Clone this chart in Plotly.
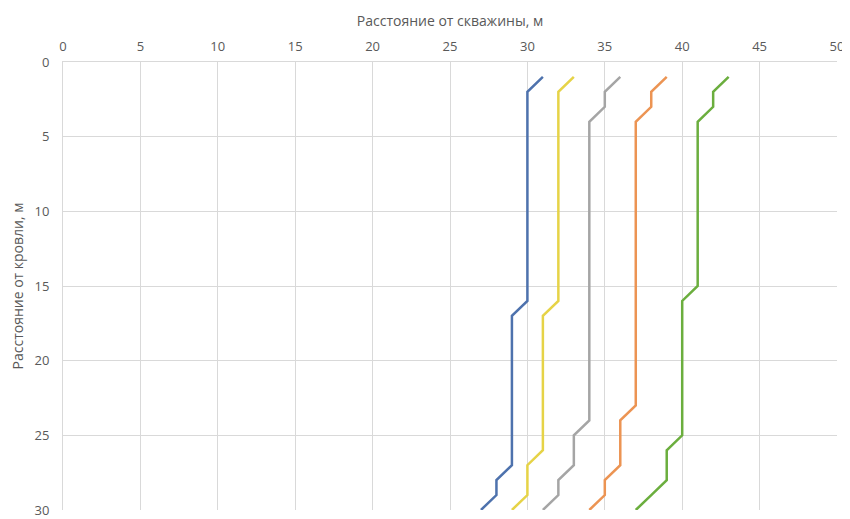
import plotly.graph_objects as go

depth = [1, 2, 3, 4, 5, 6, 7, 8, 9, 10, 11, 12, 13, 14, 15,
         16, 17, 18, 19, 20, 21, 22, 23, 24, 25, 26, 27, 28, 29, 30]

blue = [31, 30, 30, 30, 30, 30, 30, 30, 30, 30, 30, 30, 30, 30, 30,
        30, 29, 29, 29, 29, 29, 29, 29, 29, 29, 29, 29, 28, 28, 27]
yellow = [33, 32, 32, 32, 32, 32, 32, 32, 32, 32, 32, 32, 32, 32, 32,
          32, 31, 31, 31, 31, 31, 31, 31, 31, 31, 31, 30, 30, 30, 29]
gray = [36, 35, 35, 34, 34, 34, 34, 34, 34, 34, 34, 34, 34, 34, 34,
        34, 34, 34, 34, 34, 34, 34, 34, 34, 33, 33, 33, 32, 32, 31]
orange = [39, 38, 38, 37, 37, 37, 37, 37, 37, 37, 37, 37, 37, 37, 37,
          37, 37, 37, 37, 37, 37, 37, 37, 36, 36, 36, 36, 35, 35, 34]
green = [43, 42, 42, 41, 41, 41, 41, 41, 41, 41, 41, 41, 41, 41, 41,
         40, 40, 40, 40, 40, 40, 40, 40, 40, 40, 39, 39, 39, 38, 37]

series = [
    ("Ряд 1", blue, "#4E72AD"),
    ("Ряд 2", yellow, "#E6D347"),
    ("Ряд 3", gray, "#A5A5A5"),
    ("Ряд 4", orange, "#EC9453"),
    ("Ряд 5", green, "#6BAE3E"),
]

fig = go.Figure()
for name, xs, color in series:
    fig.add_trace(go.Scatter(x=xs, y=depth, mode="lines", name=name,
                             line=dict(color=color, width=2.5)))

font_color = "#595959"
fig.update_layout(
    width=842, height=511,
    margin=dict(l=55, r=13, t=54, b=9, autoexpand=False),
    paper_bgcolor="white", plot_bgcolor="white",
    showlegend=False,
    font=dict(family="Open Sans, Liberation Sans, sans-serif", size=13, color=font_color),
    xaxis=dict(
        side="top", range=[0, 50], dtick=5, tick0=0, automargin=False,
        showgrid=True, gridcolor="#D9D9D9", gridwidth=1,
        zeroline=False, showline=True, linecolor="#D9D9D9",
        ticks="", ticklabelstandoff=5, ticklabeloverflow="allow",
        title=dict(text="Расстояние от скважины, м", font=dict(size=14, color=font_color), standoff=6),
    ),
    yaxis=dict(
        range=[30, 0], dtick=5, tick0=0, automargin=False,
        showgrid=True, gridcolor="#D9D9D9", gridwidth=1,
        zeroline=False, showline=True, linecolor="#D9D9D9",
        ticks="", ticklabelstandoff=10, ticklabeloverflow="allow",
        title=dict(text="Расстояние от кровли, м", font=dict(size=14, color=font_color), standoff=8),
    ),
)

fig.write_html("out.html")
